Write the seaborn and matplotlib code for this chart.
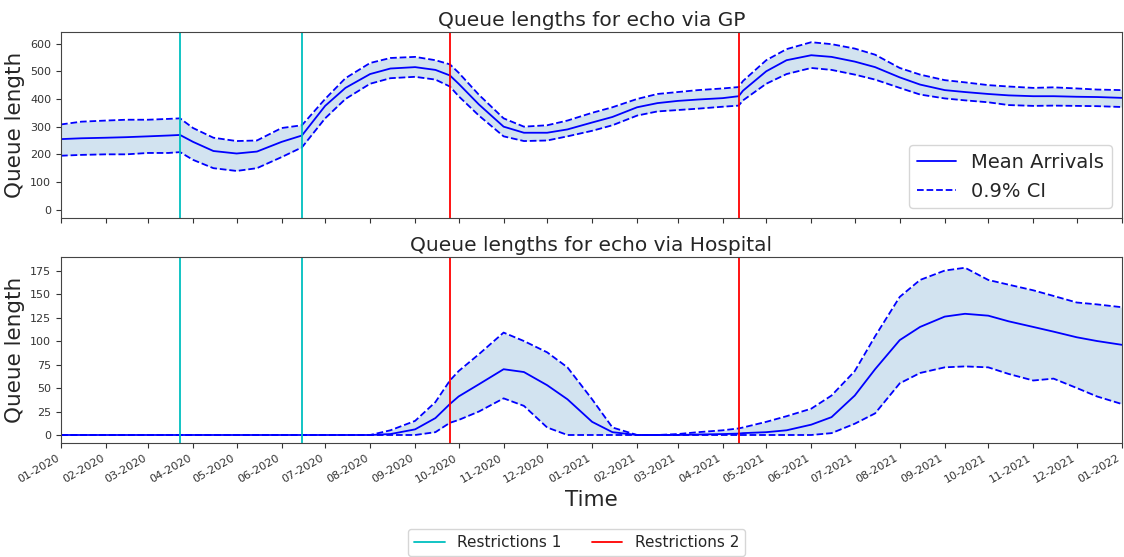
import pandas as pd
import seaborn as sns
import matplotlib.pyplot as plt
import matplotlib.dates as mdates

# Fechas de muestreo (1 y 15 de cada mes, mas fechas de restricciones)
fechas = ["2020-01-01", "2020-01-15", "2020-02-01", "2020-02-15", "2020-03-01", "2020-03-15",
          "2020-03-23", "2020-04-01", "2020-04-15", "2020-05-01", "2020-05-15", "2020-06-01",
          "2020-06-15", "2020-07-01", "2020-07-15", "2020-08-01", "2020-08-15", "2020-09-01",
          "2020-09-15", "2020-09-25", "2020-10-01", "2020-10-15", "2020-11-01", "2020-11-15",
          "2020-12-01", "2020-12-15", "2021-01-01", "2021-01-15", "2021-02-01", "2021-02-15",
          "2021-03-01", "2021-03-15", "2021-04-01", "2021-04-12", "2021-04-15", "2021-05-01",
          "2021-05-15", "2021-06-01", "2021-06-15", "2021-07-01", "2021-07-15", "2021-08-01",
          "2021-08-15", "2021-09-01", "2021-09-15", "2021-10-01", "2021-10-15", "2021-11-01",
          "2021-11-15", "2021-12-01", "2021-12-15", "2022-01-01"]

# Via GP
gp_media = [255, 258, 260, 262, 265, 268, 270, 245, 212, 203, 210, 245,
            268, 375, 440, 490, 510, 515, 505, 485, 455, 380, 300, 278,
            278, 290, 315, 335, 370, 385, 393, 398, 403, 410, 430, 500,
            540, 558, 552, 535, 515, 478, 452, 432, 425, 418, 413, 410,
            410, 408, 407, 404]
gp_inf = [195, 198, 200, 200, 205, 205, 208, 180, 150, 140, 150, 190,
          225, 330, 400, 455, 475, 480, 470, 445, 410, 340, 265, 248,
          250, 265, 285, 305, 340, 355, 360, 365, 372, 376, 395, 455,
          490, 512, 505, 488, 470, 440, 416, 402, 395, 388, 378, 375,
          376, 375, 374, 371]
gp_sup = [308, 318, 322, 325, 325, 328, 330, 295, 260, 248, 250, 295,
          305, 400, 475, 530, 548, 552, 540, 525, 495, 415, 330, 300,
          305, 322, 350, 370, 400, 418, 425, 432, 438, 443, 465, 540,
          580, 605, 598, 582, 560, 512, 488, 468, 460, 450, 445, 440,
          442, 438, 434, 432]

# Via Hospital
hosp_media = [0, 0, 0, 0, 0, 0, 0, 0, 0, 0, 0, 0,
              0, 0, 0, 0, 1, 6, 18, 33, 41, 54, 70, 67,
              53, 38, 14, 3, 0, 0, 0, 0.5, 1, 1.5, 2, 3,
              5, 11, 19, 42, 70, 101, 115, 126, 129, 127, 121, 115,
              110, 104, 100, 96]
hosp_inf = [0, 0, 0, 0, 0, 0, 0, 0, 0, 0, 0, 0,
            0, 0, 0, 0, 0, 0, 3, 13, 16, 25, 39, 31,
            8, 0, 0, 0, 0, 0, 0, 0, 0, 0, 0, 0,
            0, 0, 2, 12, 23, 55, 66, 72, 73, 72, 65, 58,
            60, 50, 41, 33]
hosp_sup = [0, 0, 0, 0, 0, 0, 0, 0, 0, 0, 0, 0,
            0, 0, 0, 0, 5, 15, 35, 58, 68, 86, 109, 100,
            88, 72, 38, 8, 0, 0, 1, 3, 5, 7, 8, 14,
            20, 28, 42, 68, 105, 147, 165, 175, 178, 165, 160, 154,
            148, 141, 139, 136]

restricciones_1 = ["2020-03-23", "2020-06-15"]
restricciones_2 = ["2020-09-25", "2021-04-12"]

sns.set_style("ticks")
plt.rcParams['font.family'] = ['DejaVu Sans']

fig = plt.figure(figsize=(11.24, 5.57), dpi=100)
ax1 = fig.add_axes([0.0543, 0.6086, 0.9437, 0.334])
ax2 = fig.add_axes([0.0543, 0.2047, 0.9437, 0.334], sharex=ax1)

paneles = [(ax1, "Queue lengths for echo via GP", gp_media, gp_inf, gp_sup, (-30, 642)),
           (ax2, "Queue lengths for echo via Hospital", hosp_media, hosp_inf, hosp_sup, (-8.5, 189.5))]

for ax, titulo, media, inf, sup, lims in paneles:
    df = pd.DataFrame({'fecha': pd.to_datetime(fechas), 'media': media, 'inf': inf, 'sup': sup})
    ax.fill_between(df['fecha'], df['inf'], df['sup'], color='C0', alpha=0.2, linewidth=0)
    sns.lineplot(data=df, x='fecha', y='media', ax=ax, color='blue', linewidth=1.3,
                 label='Mean Arrivals', legend=False)
    sns.lineplot(data=df, x='fecha', y='sup', ax=ax, color='blue', linewidth=1.3,
                 linestyle='--', label='0.9% CI', legend=False)
    sns.lineplot(data=df, x='fecha', y='inf', ax=ax, color='blue', linewidth=1.3,
                 linestyle='--', legend=False)
    for f in restricciones_1:
        ax.axvline(pd.Timestamp(f), color='c', linewidth=1.3)
    for f in restricciones_2:
        ax.axvline(pd.Timestamp(f), color='r', linewidth=1.3)
    ax.set_ylim(*lims)
    ax.set_title(titulo, fontsize=14.5, pad=4)
    ax.set_ylabel('Queue length', fontsize=15.5)
    ax.set_xlabel('')
    ax.tick_params(labelsize=8, colors='#333333')
    for s in ax.spines.values():
        s.set_color('#444444')

ax1.set_xlim(pd.Timestamp("2020-01-01"), pd.Timestamp("2022-01-01"))
ax1.xaxis.set_major_locator(mdates.MonthLocator())
ax1.xaxis.set_major_formatter(mdates.DateFormatter('%m-%Y'))
plt.setp(ax1.get_xticklabels(), visible=False)
plt.setp(ax2.get_xticklabels(), rotation=30, ha='right')
ax2.set_xlabel('Time', fontsize=15.5)

ax1.legend(loc='lower right', fontsize=14)

h1 = plt.Line2D([], [], color='c', linewidth=1.3, label='Restrictions 1')
h2 = plt.Line2D([], [], color='r', linewidth=1.3, label='Restrictions 2')
fig.legend(handles=[h1, h2], loc='lower center', ncol=2, fontsize=11,
           bbox_to_anchor=(0.513, -0.012))

plt.savefig('out.png', dpi=100)
